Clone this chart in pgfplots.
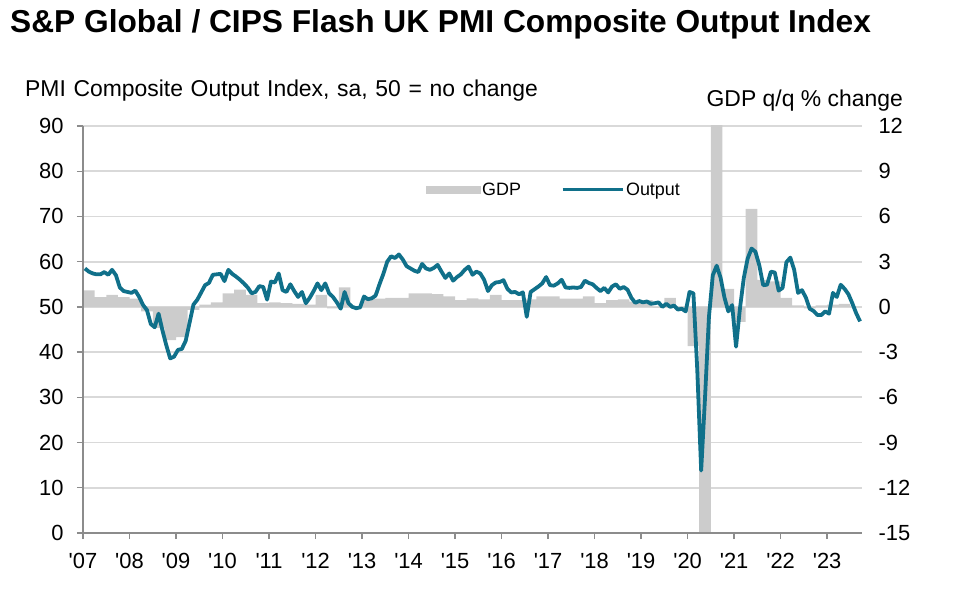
\documentclass[border=0pt]{standalone}
\usepackage{fontspec}
\setmainfont{Liberation Sans}
\newfontfamily\widespc{Liberation Sans}[WordSpace=1.2]
\usepackage{pgfplots}
\usepackage{pgfplotstable}
\pgfplotsset{compat=1.18}
\definecolor{pmiteal}{RGB}{16,112,138}
\definecolor{gdpgray}{RGB}{204,204,204}
\definecolor{gridgray}{RGB}{217,217,217}
\definecolor{axgray}{RGB}{140,140,140}

% UK PMI Composite Output Index, monthly, Jan 2007 - Sep 2023
\pgfplotstableread{
v
58.5
57.8
57.4
57.2
57.2
57.7
57.1
58.2
57.0
54.3
53.5
53.3
53.1
53.6
52.2
50.4
49.3
46.2
45.5
48.5
44.8
41.5
38.6
39.0
40.5
40.7
42.5
46.5
50.5
51.6
53.2
54.8
55.3
57.1
57.2
57.3
55.7
58.2
57.3
56.7
56.0
55.2
54.3
53.0
53.3
54.6
54.4
51.6
55.6
55.4
57.4
53.7
53.3
55.0
53.5
52.2
53.3
50.8
52.0
53.5
55.2
53.7
55.2
53.0
52.2
51.0
49.6
53.3
50.8
50.0
49.7
49.9
52.3
51.7
51.9
52.5
55.0
57.3
60.0
61.2
60.8
61.6
60.5
59.0
58.5
58.0
57.7
59.5
58.5
58.2
58.6
59.3
57.8
56.4
57.4
55.8
56.6
57.2
58.2
58.9
57.1
57.8
57.4
56.0
53.5
54.8
55.4
55.5
55.9
54.0
53.2
53.3
52.8
53.2
47.8
53.3
53.9
54.5
55.2
56.6
54.8
54.7
55.2
56.0
54.3
54.2
54.3
54.2
54.4
55.8
55.3
55.0
54.2
53.5
54.2
53.2
54.5
55.0
54.0
54.4
53.8
52.0
50.9
51.3
51.0
51.2
50.7
50.8
51.0
50.0
50.7
50.0
50.3
49.4
49.6
49.0
53.3
53.0
36.0
13.8
30.0
47.7
57.0
59.1
56.5
52.1
49.0
50.4
41.2
49.6
56.4
60.7
62.9
62.2
59.2
54.8
54.9
57.8
57.6
53.6
54.2
59.9
60.9
58.2
53.1
53.7
52.1
49.6
49.1
48.2
48.2
49.0
48.5
53.1
52.2
54.9
54.0
52.8
50.8
48.6
46.8
}\pmi

% UK GDP q/q % change, quarterly, 2007Q1 - 2023Q2 (last row closes the interval)
\pgfplotstableread{
g
1.1
0.65
0.8
0.65
0.55
-0.3
-1.4
-2.2
-2.0
-0.2
0.15
0.3
0.9
1.15
0.8
0.25
0.3
0.25
0.2
0.15
0.8
-0.1
1.3
-0.1
0.5
0.55
0.6
0.6
0.9
0.9
0.85
0.7
0.45
0.57
0.5
0.8
0.45
0.45
0.5
0.7
0.7
0.55
0.55
0.7
0.25
0.45
0.5
0.35
0.45
-0.05
0.6
0.0
-2.6
-21.0
17.0
1.2
-1.0
6.5
1.8
1.7
0.6
0.1
-0.1
0.1
0.15
0.2
0
}\gdp

\begin{document}
\begin{tikzpicture}
\path[use as bounding box] (-83bp,-62bp) rectangle (876bp,533bp);
% GDP (right axis), drawn first so the line sits on top
\begin{axis}[
  at={(0,0)}, anchor=south west, scale only axis,
  width=779bp, height=407bp,
  xmin=0, xmax=201, ymin=-15, ymax=12,
  axis x line=none,
  axis y line*=right,
  y axis line style={draw=none},
  ytick={-15,-12,...,12},
  yticklabels={-15,-12,-9,-6,-3,0,3,6,9,12},
  major tick length=0pt,
  ymajorgrids,
  grid style={gridgray, line width=1.8bp},
  yticklabel style={font=\fontsize{22}{26}\selectfont, xshift=13bp},
]
\addplot[ybar interval, fill=gdpgray, draw=none] table[x expr=3*\coordindex, y=g]{\gdp};
\end{axis}
% PMI (left axis)
\begin{axis}[
  at={(0,0)}, anchor=south west, scale only axis,
  width=779bp, height=407bp,
  xmin=0, xmax=201, ymin=0, ymax=90,
  axis x line*=bottom, axis y line*=left,
  axis line style={axgray, line width=1.4bp},
  every tick/.style={axgray, line width=1.4bp},
  tick align=outside, major tick length=6bp,
  xtick={0,12,...,192},
  xticklabels={\textquotesingle07,\textquotesingle08,\textquotesingle09,\textquotesingle10,\textquotesingle11,\textquotesingle12,\textquotesingle13,\textquotesingle14,\textquotesingle15,\textquotesingle16,\textquotesingle17,\textquotesingle18,\textquotesingle19,\textquotesingle20,\textquotesingle21,\textquotesingle22,\textquotesingle23},
  ytick={0,10,...,90},
  tick label style={font=\fontsize{22}{26}\selectfont},
  yticklabel style={xshift=-10bp},
  xticklabel style={yshift=-11bp},
  /pgf/number format/assume math mode=true,
  legend style={at={(0.436,0.843)}, anchor=west, draw=none, fill=none,
    font=\fontsize{18}{21}\selectfont,
    /tikz/every even column/.append style={column sep=38bp}},
  legend columns=2, legend cell align=left,
]
\addlegendimage{legend image code/.code={\fill[gdpgray] (0bp,-3.5bp) rectangle (54bp,3.5bp);}}
\addlegendentry{GDP}
\addplot[pmiteal, line width=3.8bp, line join=round,
  legend image code/.code={\draw[pmiteal, line width=3bp] (0bp,0bp) -- (60bp,0bp);}]
  table[x expr=\coordindex+0.5, y=v]{\pmi};
\addlegendentry{Output}
\end{axis}
\node[anchor=base west, inner sep=0pt, font=\fontsize{31.8}{36}\selectfont\bfseries] at (-73bp,500bp) {S\&P Global / CIPS Flash UK PMI Composite Output Index};
\node[anchor=base west, inner sep=0pt, font=\widespc\fontsize{23}{27}\selectfont] at (-58bp,436bp) {PMI Composite Output Index, sa, 50 = no change};
\node[anchor=base east, inner sep=0pt, font=\fontsize{23}{27}\selectfont] at (820bp,426bp) {GDP q/q \% change};
\end{tikzpicture}
\end{document}
